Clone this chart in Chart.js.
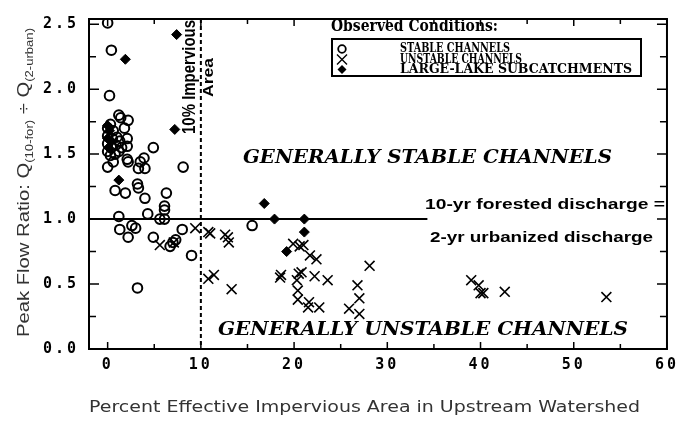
<!DOCTYPE html>
<html>
<head>
<meta charset="utf-8">
<script src="https://cdn.jsdelivr.net/npm/chart.js@4.4.1/dist/chart.umd.min.js"></script>
<style>
  html, body { margin: 0; padding: 0; background: #fff; }
</style>
</head>
<body>
<canvas id="flowChart" width="683" height="421"></canvas>
<script>
// values: % effective impervious area vs peak flow ratio

const stableX = [0.0, 0.4, 0.2, 1.2, 1.4, 2.2, 1.8, 0.3, 2.1, 2.1, 1.2, 0.6, 0.0, 2.2, 3.5, 3.3, 4.9, 3.9,
    2.1, 4.0, 8.1, 0.8, 1.9, 3.2, 3.3, 6.3, 4.0, 6.1, 6.1, 1.2, 4.3, 5.6, 6.1, 1.3, 2.2, 2.6, 3.0,
    4.9, 6.7, 7.0, 7.3, 8.0, 9.0, 3.2, 15.5,
    0.0, 0.0, 0.0, 0.0, 0.4, 0.5, 0.6, 0.9, 1.0, 0.3, 0.8, 1.3, 1.5];
const stableY = [2.51, 2.30, 1.95, 1.80, 1.78, 1.76, 1.70, 1.73, 1.62, 1.56, 1.52, 1.44, 1.40, 1.44, 1.44, 1.39, 1.55, 1.47,
    1.46, 1.39, 1.40, 1.22, 1.20, 1.27, 1.24, 1.20, 1.16, 1.10, 1.07, 1.02, 1.04, 1.00, 1.00, 0.92, 0.86, 0.95, 0.93,
    0.86, 0.79, 0.82, 0.84, 0.92, 0.72, 0.47, 0.95,
    1.52, 1.58, 1.64, 1.70, 1.55, 1.62, 1.68, 1.57, 1.63, 1.49, 1.50, 1.60, 1.55];

const unstableX = [5.6, 7.1, 9.4, 10.8, 11.0, 12.6, 12.9, 13.0, 10.8, 11.4, 13.3, 18.6, 18.5, 19.9, 20.6, 21.0,
    21.7, 22.4, 20.5, 20.8, 22.2, 23.6, 20.3, 20.4, 20.4, 21.6, 21.5, 22.7, 25.9, 26.8, 27.0, 27.0, 28.1,
    39.0, 39.8, 40.0, 40.3, 42.6, 53.5];
const unstableY = [0.80, 0.82, 0.93, 0.90, 0.89, 0.88, 0.86, 0.82, 0.54, 0.57, 0.46, 0.57, 0.55, 0.81, 0.79, 0.80,
    0.72, 0.69, 0.58, 0.59, 0.56, 0.53, 0.53, 0.45, 0.38, 0.36, 0.32, 0.32, 0.31, 0.49, 0.39, 0.27, 0.64,
    0.53, 0.49, 0.43, 0.43, 0.44, 0.40];

const lakeX = [7.4, 1.9, 7.2, 1.2, 16.8, 17.9, 21.1, 21.1, 19.2, 0.0, 0.1, 0.2, 0.4, 0.0];
const lakeY = [2.42, 2.23, 1.69, 1.30, 1.12, 1.00, 1.00, 0.90, 0.75, 1.62, 1.55, 1.68, 1.60, 1.72];

const xTicks = [0, 10, 20, 30, 40, 50, 60];
const yTicks = [0.0, 0.5, 1.0, 1.5, 2.0, 2.5];
const threshold = 10;     // 10% impervious line
const ratioLine = 1.0;    // forested = urbanized

const legendLabels = ['STABLE CHANNELS', 'UNSTABLE CHANNELS', 'LARGE-LAKE SUBCATCHMENTS'];

function pts(xs, ys) {
    return xs.map((v, i) => ({ x: v, y: ys[i] }));
}

// draw text squeezed/stretched to a given width
function fitText(ctx, text, x, y, w, font) {
    ctx.save();
    ctx.font = font;
    const m = ctx.measureText(text).width;
    ctx.translate(x, y);
    ctx.scale(w / m, 1);
    ctx.fillText(text, 0, 0);
    ctx.restore();
}

const overlay = {
    id: 'overlay',
    beforeDraw(chart) {
        chart.ctx.letterSpacing = '3px';
    },
    beforeDatasetsDraw(chart) {
        const ctx = chart.ctx;
        ctx.letterSpacing = '0px';
        const a = chart.chartArea;
        const xs = chart.scales.x, ys = chart.scales.y;
        ctx.save();
        ctx.strokeStyle = '#000';
        ctx.lineWidth = 2;
        ctx.setLineDash([4, 3]);
        const px = xs.getPixelForValue(threshold);
        ctx.beginPath();
        ctx.moveTo(px, a.top);
        ctx.lineTo(px, a.bottom);
        ctx.stroke();
        ctx.setLineDash([]);
        const py = ys.getPixelForValue(ratioLine);
        ctx.beginPath();
        ctx.moveTo(a.left, py);
        ctx.lineTo(xs.getPixelForValue(34.3), py);
        ctx.stroke();
        ctx.restore();
    },
    afterDraw(chart) {
        const ctx = chart.ctx;
        const a = chart.chartArea;
        const xs = chart.scales.x, ys = chart.scales.y;
        ctx.save();
        ctx.letterSpacing = '0px';
        ctx.fillStyle = '#000';
        ctx.strokeStyle = '#000';

        // frame and inward ticks
        ctx.lineWidth = 2;
        ctx.strokeRect(a.left, a.top, a.right - a.left, a.bottom - a.top);
        ctx.lineWidth = 1.5;
        ctx.beginPath();
        for (let v = 0; v <= 60; v += 5) {
            const p = xs.getPixelForValue(v);
            const len = v % 10 === 0 ? 7 : 5;
            ctx.moveTo(p, a.bottom); ctx.lineTo(p, a.bottom - len);
            ctx.moveTo(p, a.top); ctx.lineTo(p, a.top + len);
        }
        for (let v = 0; v <= 2.5; v += 0.25) {
            const p = ys.getPixelForValue(v);
            const len = Math.abs(v * 2 - Math.round(v * 2)) < 0.01 ? 10 : 7;
            ctx.moveTo(a.left, p); ctx.lineTo(a.left + len, p);
            ctx.moveTo(a.right, p); ctx.lineTo(a.right - len, p);
        }
        ctx.stroke();

        // region labels
        ctx.textBaseline = 'alphabetic';
        fitText(ctx, 'GENERALLY STABLE CHANNELS', 243, 163, 369, 'bold italic 19px "DejaVu Serif"');
        fitText(ctx, 'GENERALLY UNSTABLE CHANNELS', 218, 335, 410, 'bold italic 19px "DejaVu Serif"');

        // ratio note
        ctx.textBaseline = 'middle';
        fitText(ctx, '10-yr forested discharge =', 425, 205, 240, 'bold 15px "Liberation Sans"');
        fitText(ctx, '2-yr urbanized discharge', 430, 238, 223, 'bold 15px "Liberation Sans"');

        // 10% impervious label, vertical
        ctx.save();
        ctx.translate(190, 134);
        ctx.rotate(-Math.PI / 2);
        fitText(ctx, '10% Impervious', 0, 0, 114, 'bold 18px "Liberation Sans"');
        ctx.restore();
        ctx.save();
        ctx.translate(209, 97);
        ctx.rotate(-Math.PI / 2);
        fitText(ctx, 'Area', 0, 0, 39, 'bold 15px "Liberation Sans"');
        ctx.restore();

        // legend
        ctx.textBaseline = 'alphabetic';
        fitText(ctx, 'Observed Conditions:', 331, 31, 167, 'bold 16px "DejaVu Serif"');
        ctx.lineWidth = 2;
        ctx.strokeRect(332, 39, 309, 37);
        ctx.textBaseline = 'middle';
        const ly = [49, 59.5, 69.5];
        legendLabels.forEach((t, i) => {
            const w = [110, 122, 232][i];
            fitText(ctx, t, 400, ly[i], w, 'bold 12px "DejaVu Serif"');
        });
        ctx.lineWidth = 1.8;
        ctx.beginPath();
        ctx.arc(342, ly[0], 3.8, 0, Math.PI * 2);
        ctx.stroke();
        ctx.lineWidth = 1.4;
        ctx.beginPath();
        ctx.moveTo(337, ly[1] - 5); ctx.lineTo(347, ly[1] + 5);
        ctx.moveTo(337, ly[1] + 5); ctx.lineTo(347, ly[1] - 5);
        ctx.stroke();
        ctx.beginPath();
        ctx.moveTo(342, ly[2] - 4.5); ctx.lineTo(346.5, ly[2]);
        ctx.lineTo(342, ly[2] + 4.5); ctx.lineTo(337.5, ly[2]);
        ctx.closePath();
        ctx.fill();

        // axis titles
        ctx.fillStyle = '#333';
        ctx.textBaseline = 'alphabetic';
        fitText(ctx, 'Percent Effective Impervious Area in Upstream Watershed', 89, 412, 551, '16px "DejaVu Sans"');

        const parts = [
            ['Peak Flow Ratio: Q', false],
            ['(10-for)', true],
            [' \u00f7 Q', false],
            ['(2-urban)', true]
        ];
        const mainFont = '17px "Liberation Sans"', subFont = '11px "Liberation Sans"';
        let total = 0;
        parts.forEach(p => { ctx.font = p[1] ? subFont : mainFont; total += ctx.measureText(p[0]).width; });
        const k = 309 / total;
        ctx.save();
        ctx.translate(29, 337);
        ctx.rotate(-Math.PI / 2);
        ctx.scale(k, 1);
        let cx = 0;
        parts.forEach(p => {
            ctx.font = p[1] ? subFont : mainFont;
            ctx.fillText(p[0], cx, p[1] ? 4 : 0);
            cx += ctx.measureText(p[0]).width;
        });
        ctx.restore();

        ctx.restore();
    }
};

new Chart(document.getElementById('flowChart'), {
    type: 'scatter',
    data: {
        datasets: [
            {
                label: 'Stable channels',
                data: pts(stableX, stableY),
                pointStyle: 'circle',
                pointRadius: 4.8,
                borderWidth: 2,
                borderColor: '#000',
                backgroundColor: 'rgba(0,0,0,0)'
            },
            {
                label: 'Unstable channels',
                data: pts(unstableX, unstableY),
                pointStyle: 'crossRot',
                pointRadius: 7,
                borderWidth: 1.6,
                borderColor: '#000'
            },
            {
                label: 'Large-lake subcatchments',
                data: pts(lakeX, lakeY),
                pointStyle: 'rectRot',
                pointRadius: 5,
                borderWidth: 1,
                borderColor: '#000',
                backgroundColor: '#000'
            }
        ]
    },
    options: {
        responsive: false,
        animation: false,
        devicePixelRatio: 1,
        layout: { padding: { left: 0, right: 9, top: 16, bottom: 0 } },
        plugins: {
            legend: { display: false },
            tooltip: { enabled: false }
        },
        scales: {
            x: {
                type: 'linear',
                min: -2,
                max: 60,
                grid: { display: false, drawTicks: false },
                border: { display: false },
                afterBuildTicks: s => { s.ticks = xTicks.map(v => ({ value: v })); },
                afterFit: s => { s.height = 72; },
                ticks: {
                    color: '#000',
                    padding: 7,
                    maxRotation: 0,
                    font: { family: 'DejaVu Sans Mono', size: 15, weight: 'bold' }
                }
            },
            y: {
                min: 0,
                max: 2.54,
                grid: { display: false, drawTicks: false },
                border: { display: false },
                afterBuildTicks: s => { s.ticks = yTicks.map(v => ({ value: v })); },
                afterFit: s => { s.width = 89; },
                ticks: {
                    color: '#000',
                    padding: 10,
                    callback: v => Number(v).toFixed(1),
                    font: { family: 'DejaVu Sans Mono', size: 15, weight: 'bold' }
                }
            }
        }
    },
    plugins: [overlay]
});
</script>
</body>
</html>
